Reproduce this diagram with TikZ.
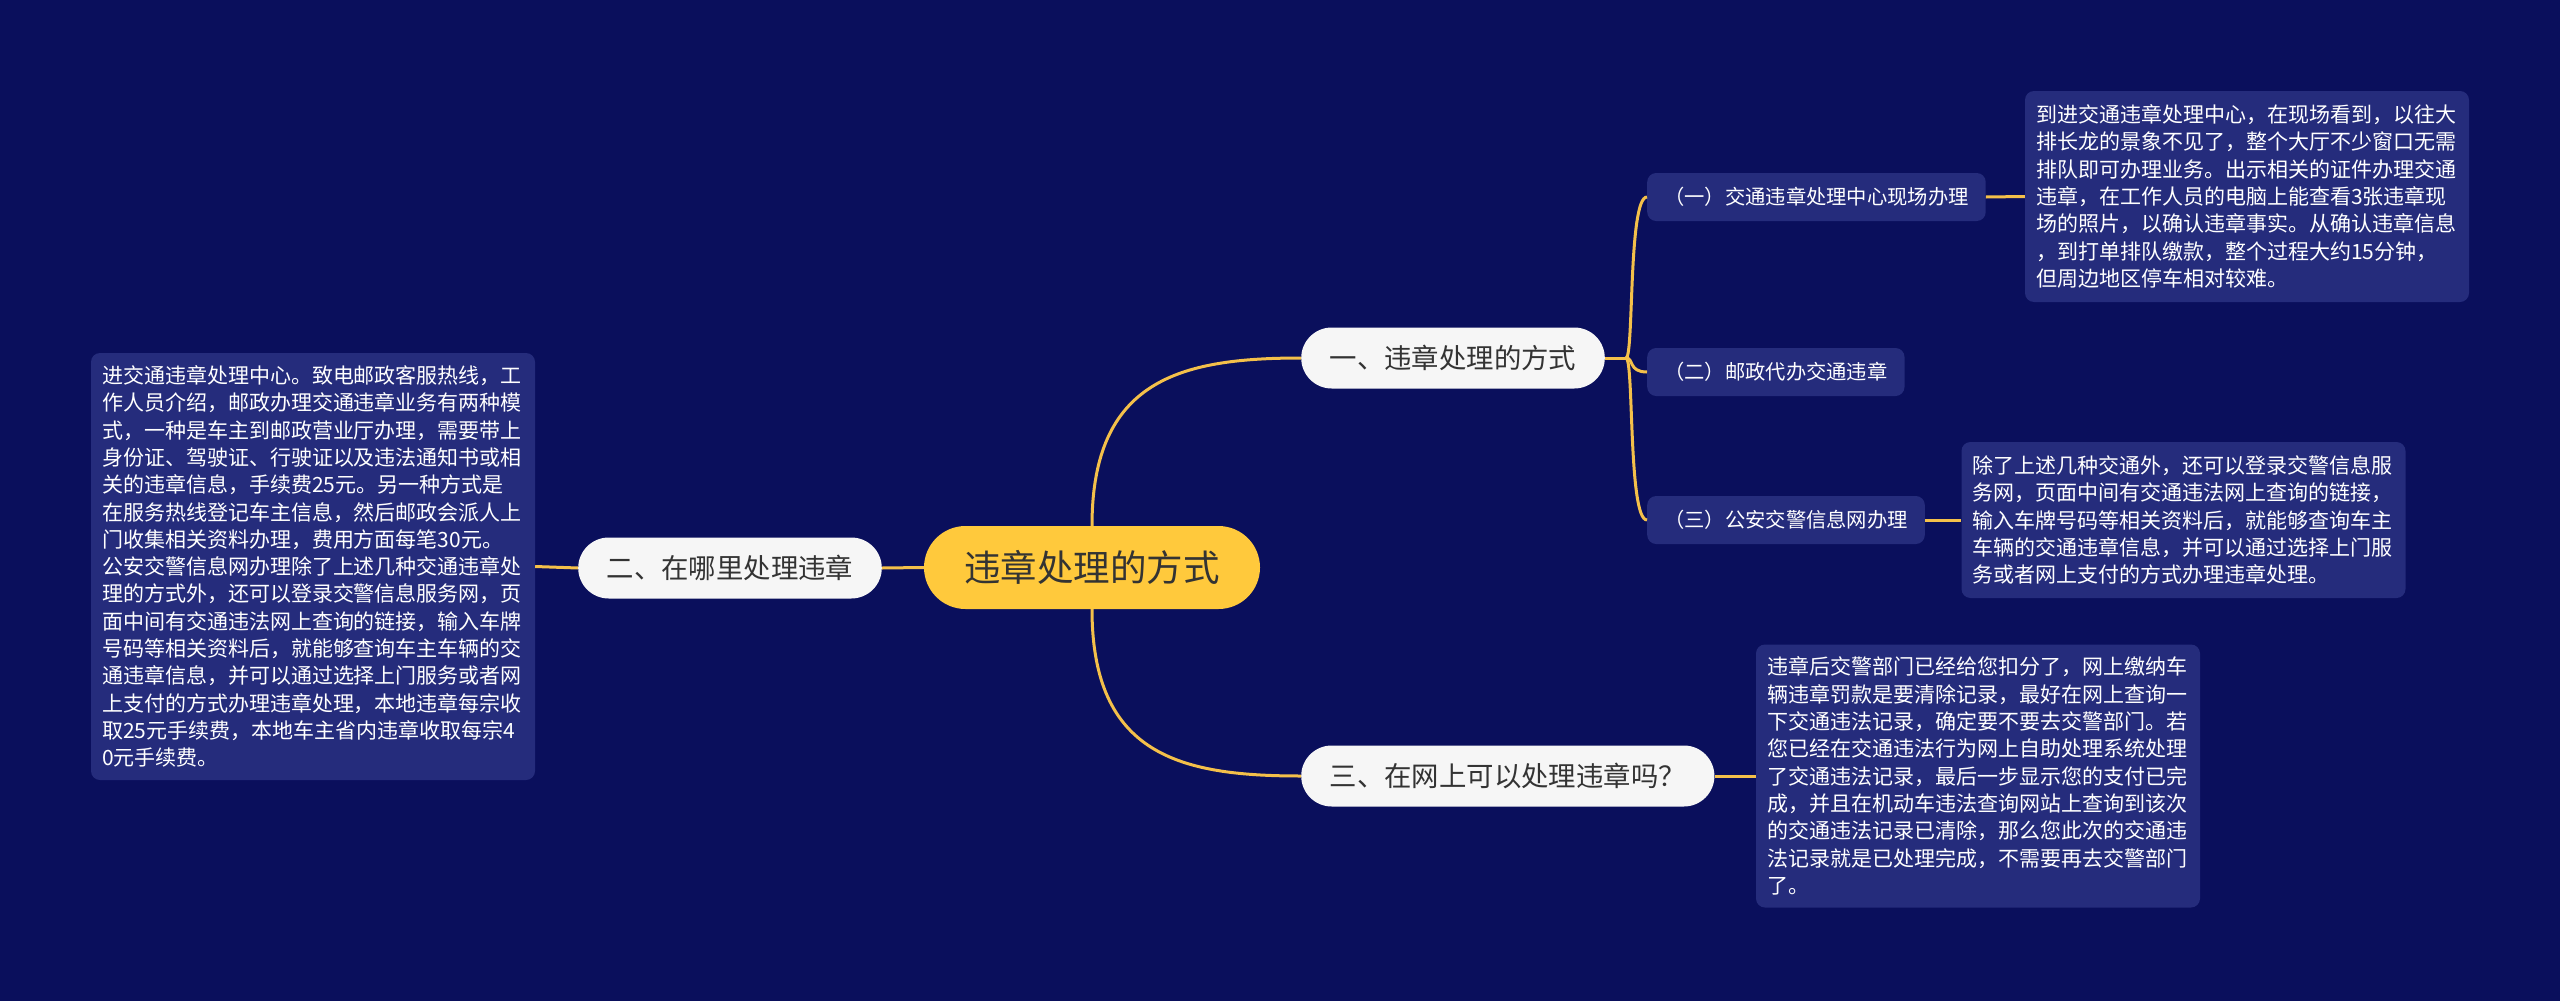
\documentclass[tikz,border=0pt]{standalone}
\usepackage{fontspec}
\setmainfont{Noto Sans CJK SC}
\definecolor{bg}{HTML}{0A0F5C}
\definecolor{boxc}{HTML}{252C7C}
\definecolor{goldc}{HTML}{FFC93C}
\definecolor{linec}{HTML}{F4C04A}
\definecolor{pillc}{HTML}{F6F6F6}
\definecolor{darkc}{HTML}{333333}
\begin{document}
\begin{tikzpicture}[x=1pt,y=-1pt,
  rootnode/.style={rounded corners=41.5pt, fill=goldc, text=darkc, font=\fontsize{36.5}{40}\selectfont, minimum width=336pt, minimum height=83pt, inner sep=0pt},
  branchnode/.style={rounded corners=30.5pt, fill=pillc, text=darkc, font=\fontsize{27.4}{30}\selectfont, minimum height=61pt, inner xsep=28.5pt, inner ysep=0pt},
  subnode/.style={rounded corners=9pt, fill=boxc, text=white, font=\fontsize{20.3}{24}\selectfont, minimum height=48pt, inner xsep=17pt, inner ysep=0pt},
  leafnode/.style={rounded corners=9pt, fill=boxc, text=white, font=\fontsize{21}{27.3}\selectfont, align=left, text width=422pt, inner xsep=11pt, inner ysep=6pt},
  conn/.style={draw=linec, line width=3pt}
]
\useasboundingbox (0,0) rectangle (2560,1001);
\fill[bg] (0,0) rectangle (2560,1001);

\node[rootnode] (root) at (1092,567.5) {违章处理的方式};

\node[branchnode, anchor=west] (b1) at (1301,358) {一、违章处理的方式};
\node[branchnode, anchor=east] (b2) at (882,568) {二、在哪里处理违章};
\node[branchnode, anchor=west] (b3) at (1301,776) {三、在网上可以处理违章吗？};

\node[subnode, anchor=west] (s1) at (1647,197) {（一）交通违章处理中心现场办理};
\node[subnode, anchor=west] (s2) at (1647,372) {（二）邮政代办交通违章};
\node[subnode, anchor=west] (s3) at (1647,520) {（三）公安交警信息网办理};

\node[leafnode, minimum height=211pt] (l1) at (2247,196.5) {到进交通违章处理中心，在现场看到，以往大\\排长龙的景象不见了，整个大厅不少窗口无需\\排队即可办理业务。出示相关的证件办理交通\\违章，在工作人员的电脑上能查看3张违章现\\场的照片，以确认违章事实。从确认违章信息\\，到打单排队缴款，整个过程大约15分钟，\\但周边地区停车相对较难。};

\node[leafnode, minimum height=156pt] (l2) at (2183.5,520) {除了上述几种交通外，还可以登录交警信息服\\务网，页面中间有交通违法网上查询的链接，\\输入车牌号码等相关资料后，就能够查询车主\\车辆的交通违章信息，并可以通过选择上门服\\务或者网上支付的方式办理违章处理。};

\node[leafnode, minimum height=263pt] (l3) at (1978,776) {违章后交警部门已经给您扣分了，网上缴纳车\\辆违章罚款是要清除记录，最好在网上查询一\\下交通违法记录，确定要不要去交警部门。若\\您已经在交通违法行为网上自助处理系统处理\\了交通违法记录，最后一步显示您的支付已完\\成，并且在机动车违法查询网站上查询到该次\\的交通违法记录已清除，那么您此次的交通违\\法记录就是已处理完成，不需要再去交警部门\\了。};

\node[leafnode, minimum height=427pt] (lL) at (313,566.5) {进交通违章处理中心。致电邮政客服热线，工\\作人员介绍，邮政办理交通违章业务有两种模\\式，一种是车主到邮政营业厅办理，需要带上\\身份证、驾驶证、行驶证以及违法通知书或相\\关的违章信息，手续费25元。另一种方式是\\在服务热线登记车主信息，然后邮政会派人上\\门收集相关资料办理，费用方面每笔30元。\\公安交警信息网办理除了上述几种交通违章处\\理的方式外，还可以登录交警信息服务网，页\\面中间有交通违法网上查询的链接，输入车牌\\号码等相关资料后，就能够查询车主车辆的交\\通违章信息，并可以通过选择上门服务或者网\\上支付的方式办理违章处理，本地违章每宗收\\取25元手续费，本地车主省内违章收取每宗4\\0元手续费。};

\coordinate (j1) at (1626,358);

\begin{scope}[on background layer/.style={}]
\draw[conn] (root.north) .. controls (1092,380) and (1180,358) .. (b1.west);
\draw[conn] (root.south) .. controls (1092,755) and (1180,776) .. (b3.west);
\draw[conn] (root.west) -- (b2.east);
\draw[conn] (b2.west) -- (lL.east);
\draw[conn] (b1.east) -- (j1);
\draw[conn] (j1) .. controls (1634,358) and (1628,197) .. (s1.west);
\draw[conn] (j1) .. controls (1634,358) and (1628,372) .. (s2.west);
\draw[conn] (j1) .. controls (1634,358) and (1628,520) .. (s3.west);
\draw[conn] (s1.east) -- (l1.west);
\draw[conn] (s3.east) -- (l2.west);
\draw[conn] (b3.east) -- (l3.west);
\end{scope}
\end{tikzpicture}
\end{document}
